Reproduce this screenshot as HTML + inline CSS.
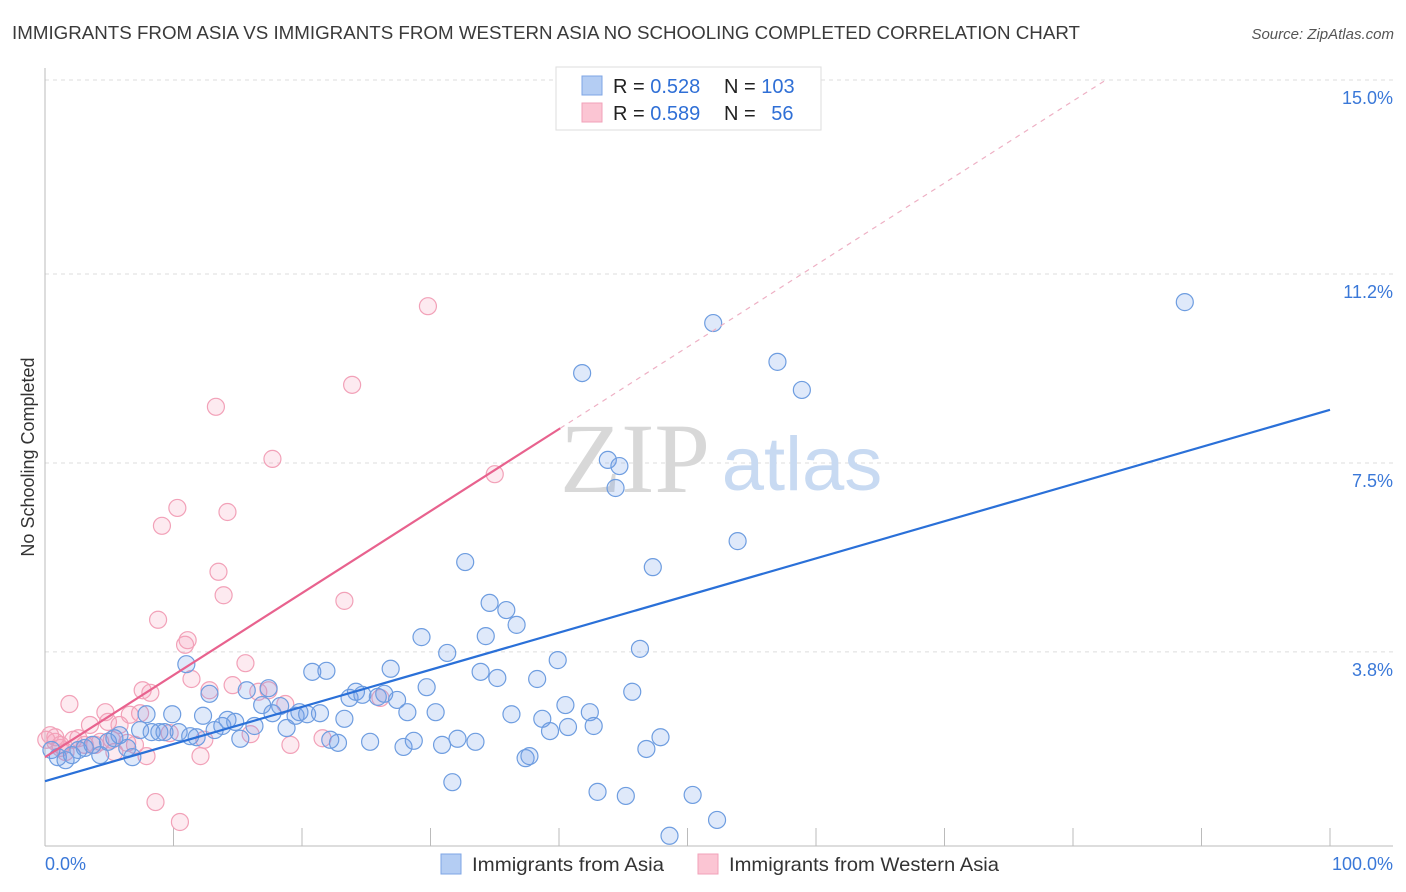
<!DOCTYPE html>
<html><head><meta charset="utf-8"><style>
body{margin:0;background:#fff;font-family:"Liberation Sans",sans-serif}
svg{display:block}
</style></head><body>
<svg id="c" width="1406" height="892" font-family="Liberation Sans, sans-serif">
<text x="12" y="39" font-size="18.5" textLength="1068" lengthAdjust="spacingAndGlyphs" fill="#3a3a3a">IMMIGRANTS FROM ASIA VS IMMIGRANTS FROM WESTERN ASIA NO SCHOOLING COMPLETED CORRELATION CHART</text>
<text x="1394" y="39" font-size="15" font-style="italic" fill="#555" text-anchor="end">Source: ZipAtlas.com</text>
<text x="34" y="457" font-size="18" fill="#333" text-anchor="middle" transform="rotate(-90 34 457)">No Schooling Completed</text>
<g id="grid"></g>
<text x="635" y="492" font-size="100" font-family="Liberation Serif, serif" fill="#d8d8d8" text-anchor="middle">ZIP</text>
<text x="802" y="490" font-size="76" fill="#c8daf2" text-anchor="middle">atlas</text>
<g id="pts"></g>
<g id="lines"></g>
<g>
<rect x="556" y="67" width="265" height="63" fill="#fff" stroke="#ddd"/>
<rect x="582" y="76" width="20" height="19" fill="#b4cdf3" stroke="#7ea5e5"/>
<rect x="582" y="103" width="20" height="19" fill="#fbc5d3" stroke="#f2a1b8"/>
<text x="613" y="93" font-size="20" fill="#222">R = <tspan fill="#2f6fd6">0.528</tspan></text>
<text x="724" y="93" font-size="20" fill="#222">N = <tspan fill="#2f6fd6">103</tspan></text>
<text x="613" y="120" font-size="20" fill="#222">R = <tspan fill="#2f6fd6">0.589</tspan></text>
<text x="724" y="120" font-size="20" fill="#222">N = <tspan fill="#2f6fd6" dx="10">56</tspan></text>
</g>
<text x="45" y="870" font-size="18" fill="#3a78d8">0.0%</text>
<text x="1393" y="870" font-size="18" fill="#3a78d8" text-anchor="end">100.0%</text>
<g>
<rect x="441" y="854" width="20" height="20" fill="#b4cdf3" stroke="#7ea5e5"/>
<text x="472" y="871" font-size="19.5" textLength="192" lengthAdjust="spacingAndGlyphs" fill="#333">Immigrants from Asia</text>
<rect x="698" y="854" width="20" height="20" fill="#fbc5d3" stroke="#f2a1b8"/>
<text x="729" y="871" font-size="19.5" textLength="270" lengthAdjust="spacingAndGlyphs" fill="#333">Immigrants from Western Asia</text>
</g>
</svg>
<script>
const yTicks=[3.8,7.5,11.2,15.0];
const yTickLabels=["3.8%","7.5%","11.2%","15.0%"];
const asiaX=[0.5,1.0,1.6,2.1,2.6,3.1,3.7,4.3,4.9,5.4,5.8,6.4,6.8,7.4,7.9,8.3,8.9,9.3,9.9,10.4,11.0,11.3,11.8,12.3,12.8,13.2,13.8,14.2,14.8,15.2,15.7,16.3,16.9,17.4,17.7,18.3,18.8,19.5,19.8,20.4,20.8,21.4,21.9,22.2,22.8,23.3,23.7,24.2,24.7,25.3,25.9,26.4,26.9,27.4,27.9,28.2,28.7,29.3,29.7,30.4,30.9,31.3,31.7,32.1,32.7,33.5,33.9,34.3,34.6,35.2,35.9,36.3,36.7,37.4,37.7,38.3,38.7,39.3,39.9,40.5,40.7,41.8,42.4,42.7,43.0,43.8,44.4,44.7,45.2,45.7,46.3,46.8,47.3,47.9,48.6,50.4,52.0,52.3,53.9,57.0,58.9,88.7];
const asiaY=[1.88,1.74,1.68,1.78,1.88,1.92,1.98,1.78,2.04,2.11,2.17,1.92,1.74,2.27,2.58,2.23,2.23,2.23,2.58,2.23,3.56,2.15,2.13,2.55,2.98,2.27,2.35,2.47,2.43,2.10,3.05,2.35,2.76,3.09,2.60,2.74,2.31,2.55,2.62,2.58,3.41,2.60,3.43,2.08,2.02,2.49,2.90,3.02,2.96,2.04,2.92,2.98,3.47,2.86,1.94,2.62,2.06,4.09,3.11,2.62,1.98,3.78,1.25,2.10,5.56,2.04,3.41,4.11,4.76,3.29,4.62,2.58,4.33,1.72,1.76,3.27,2.49,2.25,3.64,2.76,2.33,9.26,2.62,2.35,1.06,7.56,7.01,7.44,0.98,3.02,3.86,1.90,5.46,2.13,0.20,1.00,10.24,0.51,5.97,9.48,8.93,10.65];
const waX=[0.4,0.8,1.2,1.6,1.9,2.2,2.6,3.1,3.5,3.9,4.3,4.7,4.9,5.2,5.4,5.8,6.4,6.6,7.0,7.4,7.6,7.9,8.2,8.6,8.8,9.1,9.7,10.3,10.5,10.9,11.1,11.4,12.1,12.4,12.8,13.3,13.5,13.9,14.2,14.6,15.6,16.0,16.6,17.4,17.7,18.7,19.1,21.6,23.3,23.9,26.1,29.8,35.0,0.8,1.2,0.1];
const waY=[2.17,2.04,1.92,1.84,2.78,2.08,2.11,1.98,2.37,1.98,2.04,2.62,2.43,2.08,1.84,2.37,2.02,2.57,1.98,2.60,3.05,1.76,3.00,0.86,4.43,6.27,2.21,6.62,0.47,3.94,4.03,3.27,1.76,2.08,3.05,8.60,5.37,4.91,6.54,3.15,3.58,2.19,3.02,3.05,7.58,2.78,1.98,2.11,4.80,9.03,2.90,10.57,7.28,2.13,1.98,2.08];
const asiaTrend=[1.27,8.54];
const waTrend=[1.74,0.1606];
const NS="http://www.w3.org/2000/svg";
const X0=45,X1=1330,Y0=846,PY=51.07;
const sx=v=>X0+(X1-X0)*v/100, sy=v=>Y0-v*PY;
function mk(t,a,p){const e=document.createElementNS(NS,t);for(const k in a)e.setAttribute(k,a[k]);p.appendChild(e);return e;}
const g=document.getElementById('grid');
yTicks.forEach((t,i)=>{
 const l=mk('line',{x1:45,x2:1393,y1:sy(t),y2:sy(t),stroke:'#ddd','stroke-dasharray':'4,4'},g);
 
 
 const tx=mk('text',{x:1393,y:sy(t)+24,'font-size':18,fill:'#3a78d8','text-anchor':'end'},g);
 tx.textContent=yTickLabels[i];
 
 
});
const ax=mk('line',{x1:45,x2:45,y1:68,y2:846,stroke:'#bbb'},g);


const bx=mk('line',{x1:45,x2:1393,y1:846,y2:846,stroke:'#bbb'},g);


for(let i=0;i<=10;i++){const tk=mk('line',{x1:sx(i*10),x2:sx(i*10),y1:828,y2:846,stroke:'#bbb'},g);
 
 }
const p=document.getElementById('pts');
waX.forEach((x,i)=>{const c=mk('circle',{cx:sx(x),cy:sy(waY[i]),r:8.5,fill:'rgba(246,160,185,0.22)',stroke:'#f2a1b8','stroke-width':1.2},p);
 
 });
asiaX.forEach((x,i)=>{const c=mk('circle',{cx:sx(x),cy:sy(asiaY[i]),r:8.5,fill:'rgba(110,155,230,0.22)',stroke:'#6e9de0','stroke-width':1.2},p);
 
 });
const L=document.getElementById('lines');
const bl=mk('line',{x1:sx(0),y1:sy(asiaTrend[0]),x2:sx(100),y2:sy(asiaTrend[1]),stroke:'#2a70d8','stroke-width':2.2},L);


const xe=40.1, xd=(15-waTrend[0])/waTrend[1];
const pl=mk('line',{x1:sx(0),y1:sy(waTrend[0]),x2:sx(xe),y2:sy(waTrend[0]+waTrend[1]*xe),stroke:'#e8628e','stroke-width':2.2},L);


const pd=mk('line',{x1:sx(xe),y1:sy(waTrend[0]+waTrend[1]*xe),x2:sx(xd),y2:sy(15),stroke:'#eeb0c4','stroke-width':1.2,'stroke-dasharray':'5,5'},L);


</script>
</body></html>
